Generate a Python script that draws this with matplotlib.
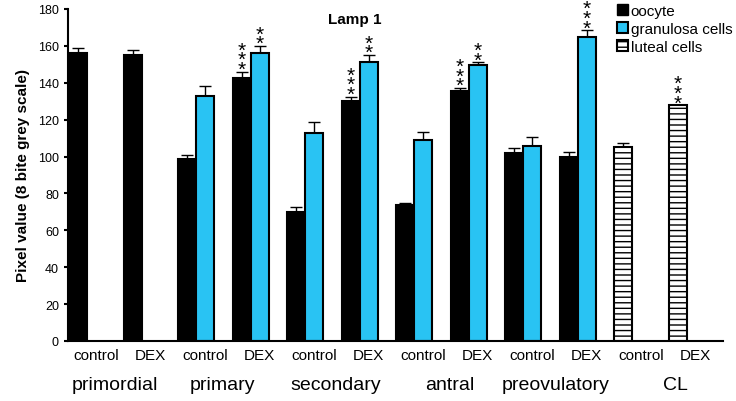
import numpy as np
import matplotlib
matplotlib.use('Agg')
import matplotlib.pyplot as plt
from matplotlib.patches import Patch

plt.rcParams['font.family'] = ['Liberation Sans', 'DejaVu Sans']
plt.rcParams['hatch.linewidth'] = 1.0

nan = np.nan
treatments = ['control', 'DEX'] * 6
stages = ['primordial', 'primary', 'secondary', 'antral', 'preovulatory', 'CL']

oocyte = [156, 155, 98.5, 142.5, 70, 130, 73.5, 135.3, 101.8, 99.8, nan, nan]
oocyte_err = [2.7, 3, 2.5, 3.6, 2.5, 2.5, 1.5, 2, 2.8, 2.6, nan, nan]
granulosa = [nan, nan, 133, 156, 113, 151, 109, 149.8, 105.9, 164.6, nan, nan]
granulosa_err = [nan, nan, 5, 4, 6, 4.2, 4.5, 1.3, 4.5, 4, nan, nan]
luteal = [nan] * 10 + [105.2, 127.8]
luteal_err = [nan] * 10 + [2, 0]

# significance marks: slot, series, number of stars
star_slot = [3, 3, 5, 5, 7, 7, 9, 11]
star_series = ['oocyte', 'granulosa', 'oocyte', 'granulosa', 'oocyte', 'granulosa', 'granulosa', 'luteal']
star_count = [3, 2, 3, 2, 3, 2, 3, 3]

blue = '#29C3F3'
w = 1 / 3
x = np.arange(len(treatments))

fig = plt.figure(figsize=(7.36, 4.02), dpi=100)
ax = fig.add_axes([68 / 736, 1 - 342 / 402, (723 - 68) / 736, 332 / 402])

def draw(vals, errs, off, **kw):
    vals = np.array(vals, dtype=float)
    errs = np.nan_to_num(np.array(errs, dtype=float))
    ok = ~np.isnan(vals)
    ax.bar(x[ok] + off, vals[ok], w, edgecolor='black', linewidth=1.5, zorder=2, **kw)
    ax.errorbar(x[ok] + off, vals[ok], yerr=[np.zeros(ok.sum()), errs[ok]],
                fmt='none', ecolor='black', elinewidth=1, capsize=4, capthick=1, zorder=1)
    return vals, errs

series = {
    'oocyte': (draw(oocyte, oocyte_err, -w, color='black'), -w),
    'granulosa': (draw(granulosa, granulosa_err, 0, color=blue), 0),
    'luteal': (draw(luteal, luteal_err, -w, color='white', hatch='---'), -w),
}

for s, name, n in zip(star_slot, star_series, star_count):
    (vals, errs), off = series[name]
    top = vals[s] + errs[s]
    ax.text(s + off, top - 4, '\n'.join(['*'] * n), ha='center', va='bottom',
            fontsize=15, linespacing=0.38)

ax.set_xlim(-0.52, 11.5)
ax.set_ylim(0, 180)
ax.set_yticks(range(0, 181, 20))
ax.tick_params(axis='y', labelsize=9, length=3, width=1.5, direction='out', colors='black')
ax.spines['top'].set_visible(False)
ax.spines['right'].set_visible(False)
ax.spines['left'].set_linewidth(1.5)
ax.spines['bottom'].set_linewidth(1.5)
ax.set_xticks(x)
ax.set_xticklabels(treatments, fontsize=11)
ax.tick_params(axis='x', length=0, pad=5)
stage_x = [0.34, 2.32, 4.39, 6.48, 8.42, 10.62]
for sx, st in zip(stage_x, stages):
    ax.text(sx, -0.13, st, transform=ax.get_xaxis_transform(),
            ha='center', va='center', fontsize=14)

ax.set_ylabel('Pixel value (8 bite grey scale)', fontsize=11, fontweight='bold', labelpad=6)
fig.text(355 / 736, 1 - 20 / 402, 'Lamp 1', ha='center', va='center', fontsize=11, fontweight='bold')

handles = [Patch(facecolor='black', edgecolor='black'),
           Patch(facecolor=blue, edgecolor='black', linewidth=1.5),
           Patch(facecolor='white', edgecolor='black', hatch='---', linewidth=1.5)]
fig.legend(handles, ['oocyte', 'granulosa cells', 'luteal cells'], loc='upper left',
           bbox_to_anchor=(614 / 736, 1 - 2 / 402), frameon=False, fontsize=11,
           handlelength=0.7, handleheight=0.7, handletextpad=0.2, labelspacing=0.25,
           borderaxespad=0, borderpad=0.2)

fig.savefig('out.png', dpi=100)
